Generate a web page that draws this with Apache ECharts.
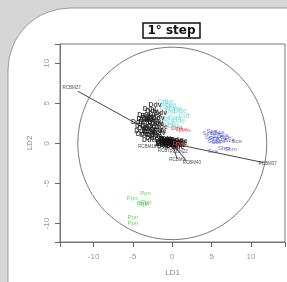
<!DOCTYPE html>
<html>
<head>
<meta charset="utf-8">
<script src="https://cdn.jsdelivr.net/npm/echarts@6/dist/echarts.min.js"></script>
<style>
  html, body { margin: 0; padding: 0; background: #d6d6d6; }
  #main { width: 287px; height: 282px; }
</style>
</head>
<body>
<div id="main"></div>
<script>
// tick labels
var xTicks = [-10, -5, 0, 5, 10]
var yTicks = [-10, -5, 0, 5, 10]
var circleR = 12

// group scores (LD1, LD2)
var blackX = [-4.4, -3.6, -2.9, -2.6, -2.2, -1.8, -3.9, -3.5, -3.1, -2.7, -2.3, -1.9, -1.5, -4.0, -3.6, -3.2, -2.8, -2.4, -2.0, -1.6, -3.8, -3.3, -2.9, -2.5, -2.1, -1.7, -3.0, -2.6, -1.2, -0.8, -3.4, -2.2, -3.7, -3.2, -2.4, -1.4, -2.0, -3.0]
var blackY = [2.6, 3.5, 4.3, 4.0, 3.6, 3.2, 2.2, 2.6, 3.1, 2.9, 2.7, 2.4, 3.8, 1.6, 1.9, 2.2, 1.8, 2.1, 1.7, 1.5, 1.2, 1.0, 1.4, 1.1, 0.9, 1.3, 0.4, 0.7, 0.2, 0.5, 2.9, 4.8, 3.0, 3.4, 3.2, 2.0, 2.5, 1.6]
var blackNames = ['Dde', 'Ddv', 'Ddv', 'Ddv', 'Dde', 'Ddv', 'Dde', 'Dde', 'Ddv', 'Dde', 'Ddv', 'Dde', 'Ddv', 'Dde', 'Dde', 'Ddv', 'Dde', 'Dde', 'Ddv', 'Dde', 'Dde', 'Ddv', 'Dde', 'Dde', 'Dde', 'Ddv', 'Dde', 'Dde', 'Dde', 'Dde', 'Ddv', 'Ddv', 'Dde', 'Dde', 'Dde', 'Dde', 'Ddv', 'Dde']

var cyanX = [-1.2, -0.6, -0.2, 0.4, 1.0, 1.5, -0.9, -0.3, 0.3, 0.8, -0.5, 0.1, 0.6, -1.0]
var cyanY = [5.2, 5.0, 4.6, 4.3, 4.0, 3.4, 4.4, 3.9, 3.2, 2.8, 2.5, 2.2, 1.9, 3.0]
var cyanNames = ['Ddf', 'Ddf', 'Ddf', 'Dde', 'Dde', 'Ddf', 'Ddf', 'Ddf', 'Dde', 'Dde', 'Ddf', 'Ddf', 'Ddf', 'Ddf']

var redX = [0.6, 1.2, 1.6, 0.8, 1.2]
var redY = [1.9, 1.8, 1.6, 0.0, -0.1]
var redNames = ['Dms', 'Dms', 'Dms', 'Dms', 'Dms']

var originX = [-1.4, -1.0, -0.6, -0.2, 0.2, 0.6, 1.0, -1.2, -0.8, -0.4, 0.0, 0.4, 0.8, -1.3, -0.9, -0.5, -0.1, 0.3, 0.7, 1.1, -1.1, -0.3, 0.5, 0.9, -0.7, 0.1]
var originY = [0.4, 0.3, 0.2, 0.1, 0.1, 0.0, 0.0, -0.1, -0.2, 0.0, -0.3, -0.2, 0.2, 0.0, 0.5, 0.5, 0.3, -0.1, -0.4, 0.3, -0.3, -0.2, 0.4, -0.2, 0.4, 0.0]

var blueX = [4.5, 5.0, 5.5, 6.0, 6.5, 4.8, 5.3, 5.8, 6.3, 6.8, 7.3, 5.1, 5.6, 6.1, 8.2, 5.2, 7.4, 6.6]
var blueY = [1.3, 1.5, 1.2, 1.4, 1.0, 0.8, 0.6, 0.9, 0.5, 0.7, 0.4, 0.2, 0.1, 0.3, 0.3, -1.0, -0.8, -0.6]
var blueNames = ['Sce', 'Sce', 'Sce', 'Sce', 'Sce', 'Sce', 'Sce', 'Sce', 'Sce', 'Sce', 'Sce', 'Sce', 'Sce', 'Sce', 'Sce', 'Sce', 'Sbm', 'Sbm']

var greenX = [-3.4, -5.1, -3.6, -3.8, -3.3, -5.0, -5.0]
var greenY = [-6.2, -6.8, -7.6, -7.5, -7.4, -9.2, -10.0]

// loadings (arrows from origin)
var loadNames = ['RCBM27', 'RCBM37', 'RCBM18', 'RCB7', 'RCBM22', 'RCBM9', 'RCBM40']
var loadX = [-12.0, 11.6, -2.2, -0.8, 0.6, 0.6, 1.8]
var loadY = [6.5, -2.4, -0.3, -0.8, -0.9, -1.9, -2.2]
var loadLabX = [-12.8, 12.1, -3.2, -1.1, 0.8, 0.6, 2.5]
var loadLabY = [6.9, -2.5, -0.4, -0.9, -1.0, -2.0, -2.4]

function textSeries(xs, ys, names, color, size, z, weight) {
  return {
    type: 'scatter',
    symbolSize: 0,
    z: z,
    silent: true,
    data: xs.map(function (x, i) { return { value: [x, ys[i]], name: names[i] } }),
    label: {
      show: true,
      position: 'inside',
      formatter: '{b}',
      color: color,
      fontSize: size,
      fontWeight: weight || 'normal',
      fontFamily: 'Liberation Sans'
    }
  }
}

var circle = []
for (var a = 0; a <= 360; a += 2) {
  var t = a * Math.PI / 180
  circle.push([circleR * Math.cos(t), circleR * Math.sin(t)])
}

var myChart = echarts.init(document.getElementById('main'))
var option = {
  animation: false,
  backgroundColor: '#d6d6d6',
  graphic: [
    {
      type: 'rect',
      z: -10,
      shape: { x: 8, y: 8, width: 300, height: 300, r: [62, 0, 0, 0] },
      style: { fill: '#ffffff', stroke: '#9a9a9a', lineWidth: 1 }
    },
    {
      type: 'rect',
      z: 10,
      shape: { x: 143, y: 23, width: 57, height: 15 },
      style: { fill: '#ffffff', stroke: '#111', lineWidth: 1.5 }
    },
    {
      type: 'text',
      z: 11,
      x: 171.5,
      y: 31,
      style: {
        text: '1° step',
        fill: '#111',
        font: 'bold 12px "DejaVu Sans"',
        align: 'center',
        verticalAlign: 'middle'
      }
    }
  ],
  grid: { left: 60, right: 2, top: 44, bottom: 40, show: true, borderColor: '#777', borderWidth: 1 },
  xAxis: {
    type: 'value',
    min: -14.27,
    max: 14.32,
    splitNumber: 6,
    name: 'LD1',
    nameLocation: 'middle',
    nameGap: 27,
    nameTextStyle: { color: '#888', fontSize: 8, fontFamily: 'Liberation Sans' },
    axisLine: { show: true, onZero: false, lineStyle: { color: '#777' } },
    axisTick: { show: true, length: 5, lineStyle: { color: '#666' } },
    axisLabel: { customValues: xTicks, color: '#999', fontSize: 8, margin: 11, fontFamily: 'Liberation Sans' },
    splitLine: { show: false }
  },
  yAxis: {
    type: 'value',
    min: -12.3,
    max: 12.4,
    splitNumber: 5,
    name: 'LD2',
    nameLocation: 'middle',
    nameGap: 26,
    nameTextStyle: { color: '#888', fontSize: 8, fontFamily: 'Liberation Sans' },
    axisLine: { show: true, onZero: false, lineStyle: { color: '#777' } },
    axisTick: { show: true, length: 5, lineStyle: { color: '#666' } },
    axisLabel: { customValues: yTicks, rotate: 90, color: '#999', fontSize: 8, margin: 9, fontFamily: 'Liberation Sans' },
    splitLine: { show: false }
  },
  series: [
    {
      type: 'line',
      data: circle,
      symbol: 'none',
      silent: true,
      lineStyle: { color: '#777', width: 1 },
      z: 1
    },
    {
      type: 'lines',
      coordinateSystem: 'cartesian2d',
      silent: true,
      z: 2,
      lineStyle: { color: '#444', width: 1, opacity: 1 },
      data: loadX.map(function (x, i) { return { coords: [[0, 0], [x, loadY[i]]] } })
    },
    textSeries(cyanX, cyanY, cyanNames, '#5fd3d3', 7, 3),
    textSeries(blackX, blackY, blackNames, '#1a1a1a', 7, 4, 'bold'),
    textSeries(originX, originY, originX.map(function () { return 'Dde' }), '#111', 7, 5, 'bold'),
    textSeries(redX, redY, redNames, '#f05050', 6, 6),
    textSeries(blueX, blueY, blueNames, '#4545cc', 6, 6),
    textSeries(greenX, greenY, greenX.map(function () { return 'Ppn' }), '#3ccc3c', 6, 6),
    textSeries(loadLabX, loadLabY, loadNames, '#222', 4.5, 7)
  ]
}
myChart.setOption(option)
</script>
</body>
</html>
